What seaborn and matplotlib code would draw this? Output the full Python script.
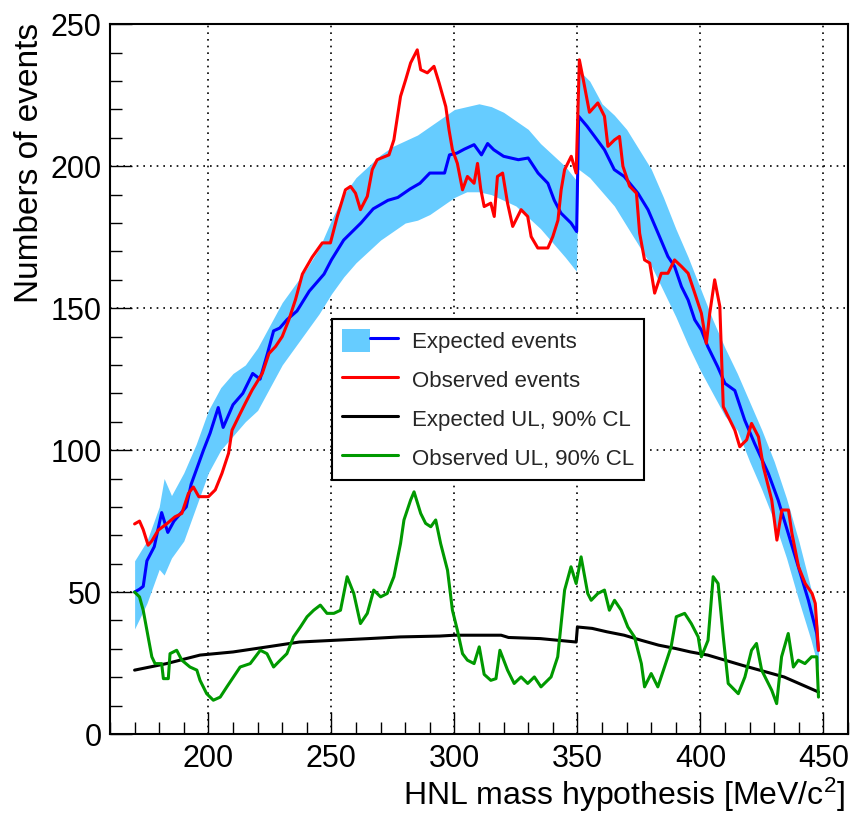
import numpy as np
import pandas as pd
import matplotlib
matplotlib.use('Agg')
import matplotlib.pyplot as plt
import seaborn as sns
from matplotlib.patches import Patch
from matplotlib.lines import Line2D
from matplotlib.ticker import MultipleLocator
from matplotlib.legend_handler import HandlerTuple

sns.set_theme(style='white')
plt.rcParams['font.family'] = ['Liberation Sans', 'DejaVu Sans']
plt.rcParams['mathtext.fontset'] = 'custom'
plt.rcParams['mathtext.rm'] = 'Liberation Sans'
plt.rcParams['mathtext.it'] = 'Liberation Sans:italic'

# ---------------- data ----------------
band_x = [170, 175, 180, 182, 185, 190, 195, 200, 205, 210, 215, 220, 225, 230, 235, 240, 245,
          250, 255, 260, 265, 270, 275, 280, 285, 290, 295, 300, 305, 310, 315, 320, 325, 330,
          335, 340, 345, 349.6, 350.4, 355, 360, 365, 370, 375, 380, 385, 390, 395, 400, 405,
          410, 415, 420, 425, 430, 435, 440, 445, 448]
band_lo = [37, 46, 58, 56, 62, 68, 80, 92, 100, 105, 110, 114, 122, 130, 136, 142, 148,
           155, 161, 166, 170, 174, 177, 180, 181, 183, 186, 189, 191, 191, 190, 188, 186, 182,
           178, 173, 168, 163, 199, 196, 191, 186, 179, 172, 165, 156, 147, 137, 128, 120,
           112, 107, 96, 86, 75, 62, 47, 33, 23]
band_hi = [61, 68, 80, 90, 84, 92, 102, 114, 122, 127, 130, 136, 144, 152, 158, 164, 171,
           181, 190, 196, 200, 204, 207, 209, 211, 214, 217, 220, 221, 222, 221, 219, 216, 213,
           208, 204, 200, 195, 234, 230, 222, 218, 213, 206, 199, 189, 178, 168, 157, 146,
           136, 127, 117, 107, 96, 83, 68, 51, 37]

exp_x = [170, 172, 173.5, 175, 178, 181, 183.5, 186, 191, 193, 198, 200.7, 204, 206, 210, 214,
         218, 221, 224, 226.5, 229, 232, 236, 241, 247, 250, 255, 262, 267, 273, 277, 282, 286,
         290, 296, 298, 301, 304, 308, 311, 313.5, 316, 320, 326, 330, 334, 338, 340.6, 343.3,
         347.4, 349.7, 350.5, 354, 357, 361, 365, 369, 374.6, 378.7, 382.8, 386.8, 389.5,
         392.3, 395, 397.7, 400.4, 403, 407, 410, 414, 418, 422, 427.6, 431.6, 435.7, 439.8,
         443.9, 447.3, 448]
exp_y = [50, 51, 52, 61, 66, 78, 71, 75, 80, 88, 100, 106, 115, 108, 116, 120,
         127, 125, 134, 142, 143, 146, 149, 156, 162, 167, 174, 180, 185, 188, 189, 192, 194,
         197.6, 197.6, 204, 204.6, 206, 207.6, 204, 208, 205.8, 203.5, 202.3, 202.9, 197.6, 194, 188, 183.5,
         180, 177, 217.6, 214, 210.5, 205.8, 198.8, 196.4, 190.5, 184.7, 176.4, 168.2, 164.7,
         157.6, 152.9, 145.9, 142.3, 136.5, 129.4, 123.5, 121, 110.6, 102.4, 91.8, 82.4, 70.7, 58.9,
         47.1, 35.4, 29.5]

obs_x = [170, 172, 173.5, 175.5, 177, 179.6, 183, 186.4, 189.2, 191.9, 193.9, 196.1, 200, 202.8,
         205.5, 208.2, 209.6, 212.3, 215, 217.8, 221.9, 224.6, 227.3, 230, 232.7, 235.4, 238.2,
         242.2, 246.3, 249.6, 252.3, 255.7, 257.8, 259.8, 261.8, 264.6, 266.6, 268.6, 273.4,
         275.4, 278.1, 280.2, 282.2, 284.9, 286.3, 289, 291.7, 293.8, 296.5, 297.8, 299.2, 301.2,
         303.3, 305.3, 308, 309.4, 310.7, 312.1, 314.8, 316.2, 317.5, 319.6, 321.6, 323.7, 327.1,
         329.8, 331.2, 333.9, 338, 340, 342.1, 343.4, 344.8, 347.5, 349.5, 350.8, 352.5, 354.9,
         358.3, 361, 362.4, 365.1, 367.1, 368.5, 371.2, 374, 375.3, 377.3, 379.4, 381.4, 384.1,
         386.8, 389.5, 392.3, 395, 397.7, 400.4, 402.4, 403.8, 405.8, 407.9, 409.3, 411.3, 414,
         416, 418.8, 420.8, 423.6, 425.6, 429, 431.1, 433.1, 435.8, 437.2, 439.9, 442.6, 445.4,
         446.7, 448]
obs_y = [74, 75, 72, 66.5, 68, 71.8, 74, 76.5, 77.7, 84.8, 87, 83.6, 83.6, 86,
         91.8, 98.9, 107, 111.8, 116.5, 121.2, 127, 134, 136.5, 140, 145.9, 153, 162,
         168, 173, 173, 182, 191.7, 192.9, 190.5, 184.7, 189.4, 198.8, 202.3, 204,
         209.3, 224.6, 230.5, 236.4, 241, 234, 232.9, 235.2, 229.3, 221, 212.9, 205.8, 201,
         191.7, 196.4, 194, 201, 192, 185.8, 187, 182.3, 196.4, 197.6, 187, 178.8, 184.7,
         182.3, 175.2, 171.2, 171.2, 175.2, 181, 191.7, 198.8, 203.5, 197.6, 237.5, 230, 219,
         222.3, 217.6, 207, 209.3, 210.5, 200, 193, 190.5, 176.4, 167, 165.9, 155.3, 162.3,
         162.3, 167, 164.7, 162.3, 155.3, 148.2, 137.6, 148.2, 160, 150.6, 115.3, 111.8, 107,
         101.2, 103.6, 109.4, 104.7, 94.1, 82.4, 68.3, 78.9, 78.9, 70.7, 58.9, 53, 49.5,
         46, 29.5]

exp_ul_x = [170, 183, 196.6, 210, 224, 237, 251, 265, 278, 294, 300, 319, 322, 335, 349.5,
            350, 356, 362, 369, 376, 383, 390, 396, 403, 410, 417, 434, 448]
exp_ul_y = [22.5, 24.8, 27.8, 28.9, 30.7, 32.4, 33, 33.6, 34.2, 34.5, 34.8, 34.8, 34, 33.6, 32.4,
            37.7, 37.2, 36, 34.8, 33, 31.3, 30.1, 28.9, 27.8, 26, 24.2, 20.1, 14.8]

obs_ul_x = [170, 172, 173.5, 175.5, 177, 178.3, 181, 181.7, 183.7, 184.4, 187.1, 189.2, 192.5,
            195.3, 196.6, 199.3, 202, 204.8, 207.5, 210.2, 212.9, 217, 221.1, 223.8, 226.5,
            229.2, 231.9, 234.6, 237.4, 240.1, 242.8, 245.5, 248.2, 251, 253.7, 256.4, 259.1,
            261.8, 264.6, 267.2, 270, 272.7, 275.4, 278.1, 279.5, 282.2, 283.6, 286.3, 288.3,
            290.4, 292.4, 294.4, 297.2, 299.2, 301.2, 303.3, 305.3, 308, 310.1, 312.1, 314.8,
            316.9, 318.5, 321.6, 324.3, 327.1, 329.8, 332.5, 335.2, 339.3, 342, 344.8, 347.4,
            349.5, 351.5, 354.2, 355.6, 358.3, 361, 363, 365.1, 367.8, 370.5, 373.2, 376, 377.3,
            380, 382.7, 385.4, 388.1, 390.2, 393.6, 396.3, 399.1, 400.4, 403.1, 405.2, 407.2,
            409.3, 411.3, 415.4, 418.1, 420.8, 422.8, 424.9, 429, 431, 433, 435.7, 437.8, 439.8,
            442.5, 445.2, 447.3, 448]
obs_ul_y = [50, 48.3, 43.6, 34.2, 27.2, 24.8, 24.8, 19.5, 19.5, 28.3, 29.5, 26, 23.6,
            22.5, 18.9, 14.2, 11.9, 13, 16.6, 20.1, 23.6, 24.8, 29.5, 28.3, 23.6,
            26, 28.3, 34.2, 37.7, 41.3, 43.6, 45.4, 42.5, 42.5, 43.6, 55.4, 49.5,
            38.9, 42.5, 50.7, 48.3, 49.5, 55.4, 67.1, 75.4, 82.4, 85.3, 77.7, 74.2,
            73, 75.4, 67.1, 57.7, 43.6, 36.6, 28.3, 26, 24.8, 30.7, 21, 18.9,
            19.5, 29.5, 22.5, 17.8, 20.1, 17.8, 20.1, 16.6, 20.1, 27.2, 50.7, 58.9,
            53, 62.4, 49.5, 47.1, 49.5, 50.7, 43.6, 47.1, 43.6, 37.7, 34.2, 24.8, 16.6,
            21.3, 16.6, 23.6, 30.7, 41.3, 42.5, 38.9, 34.2, 27.2, 33, 55.4, 53,
            34.2, 17.8, 14.2, 20.1, 29.5, 31.9, 22.5, 15.4, 10.7, 27.2, 35.4, 23.6, 26,
            24.8, 27.2, 27.2, 13]

x_ticks = [200, 250, 300, 350, 400, 450]
y_ticks = [0, 50, 100, 150, 200, 250]
labels = ["Expected events", "Observed events", "Expected UL, 90% CL", "Observed UL, 90% CL"]

# ---------------- figure ----------------
W, H = 851, 814
fig = plt.figure(figsize=(W / 100, H / 100), dpi=100)
L, R, T, B = 110, 848, 24.3, 734
ax = fig.add_axes([L / W, 1 - B / H, (R - L) / W, (B - T) / H])

BAND = '#66ccff'
ax.fill_between(band_x, band_lo, band_hi, color=BAND, linewidth=0, zorder=1)

lw = 2.2
sns.lineplot(x=exp_x, y=exp_y, ax=ax, color='#0000ff', lw=lw, estimator=None, sort=False,
             legend=False, zorder=3)
sns.lineplot(x=obs_x, y=obs_y, ax=ax, color='#ff0000', lw=lw, estimator=None, sort=False,
             legend=False, zorder=4)
sns.lineplot(x=exp_ul_x, y=exp_ul_y, ax=ax, color='black', lw=lw, estimator=None, sort=False,
             legend=False, zorder=3)
sns.lineplot(x=obs_ul_x, y=obs_ul_y, ax=ax, color='#009900', lw=lw, estimator=None, sort=False,
             legend=False, zorder=4)

ax.set_xlim(160, 460)
ax.set_ylim(0, 250)
ax.set_xticks(x_ticks)
ax.set_yticks(y_ticks)
ax.xaxis.set_minor_locator(MultipleLocator(10))
ax.yaxis.set_minor_locator(MultipleLocator(10))
ax.tick_params(which='major', direction='in', length=16, width=1.0, labelsize=22,
               color='black', labelcolor='black', bottom=True, left=True, top=False, right=False)
ax.tick_params(axis='x', which='major', pad=7)
ax.tick_params(axis='y', which='major', pad=6)
ax.tick_params(which='minor', direction='in', length=8.5, width=1.0, color='black',
               bottom=True, left=True, top=False, right=False)
ax.set_axisbelow(True)
ax.grid(True, which='major', color='black', linestyle=(0, (1, 3)), linewidth=1.2)
for s in ax.spines.values():
    s.set_color('black')
    s.set_linewidth(1.5)
    s.set_visible(True)
ax.set_xlabel('')
ax.set_ylabel('')

fig.text(845 / W, 1 - 805 / H, r'HNL mass hypothesis [MeV/c$^{2}$]', ha='right', va='baseline',
         fontsize=23, color='black')
fig.text(30 / W, 1 - 23 / H, 'Numbers of events', rotation=90, ha='center', va='top',
         fontsize=24, color='black')

handles = [
    (Patch(facecolor=BAND, edgecolor='none'), Line2D([], [], color='#0000ff', lw=lw)),
    Line2D([], [], color='#ff0000', lw=lw),
    Line2D([], [], color='black', lw=lw),
    Line2D([], [], color='#009900', lw=lw),
]
leg = ax.legend(handles, labels, loc='upper left',
                bbox_to_anchor=(331.7 / W, 1 - 319 / H), bbox_transform=fig.transFigure,
                borderaxespad=0, fontsize=16, frameon=True, fancybox=False, framealpha=1,
                edgecolor='black', handlelength=2.55, handleheight=1.2, handletextpad=0.6,
                labelspacing=0.68, borderpad=0.45,
                handler_map={tuple: HandlerTuple(ndivide=None, pad=0)})
leg.get_frame().set_linewidth(1.5)
leg.set_zorder(10)

fig.savefig('out.png', dpi=100)
